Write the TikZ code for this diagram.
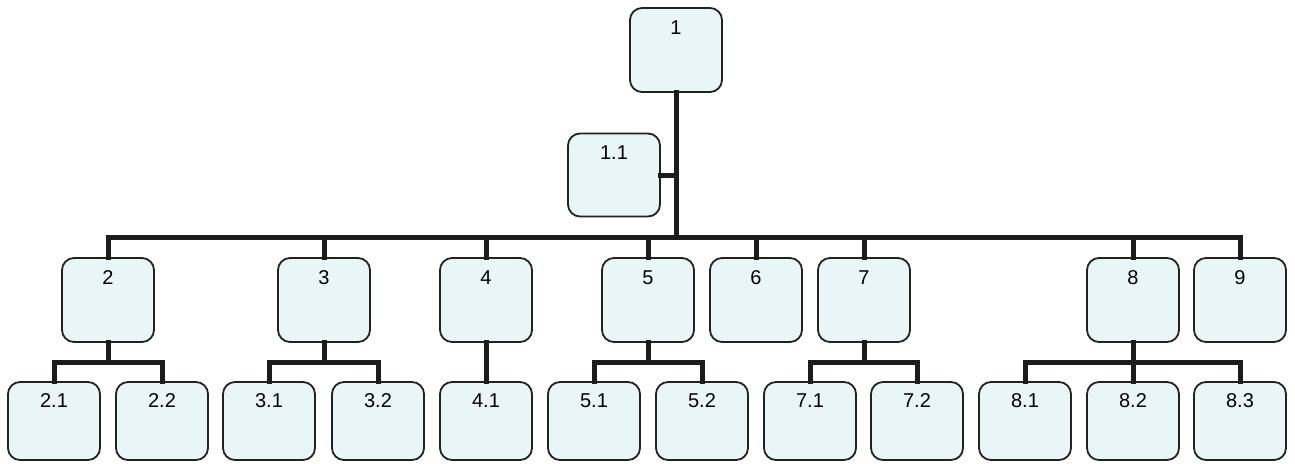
\documentclass[tikz,border=0pt]{standalone}
\usepackage{fontspec}
\setmainfont{Liberation Sans}
\definecolor{boxfill}{HTML}{E8F6F8}
\definecolor{boxline}{HTML}{222222}
\definecolor{connline}{HTML}{1C1C1C}
\begin{document}
\begin{tikzpicture}[x=1pt,y=-1pt,
  box/.style={draw=boxline, fill=boxfill, line width=1.8pt, rounded corners=12pt,
    minimum width=92pt, inner sep=0pt, text height=26pt, text depth=58pt,
    font=\fontsize{20}{24}\selectfont},
  lowbox/.style={box, text height=25pt, text depth=53pt},
  conn/.style={draw=connline, line width=5pt, line cap=rect, line join=miter}]
\useasboundingbox (0,0) rectangle (1295,463);
% coordinates for bus levels
\coordinate (busA) at (0,237);
\coordinate (busB) at (0,362);
% top
\node[box] (n1) at (676,50) {1};
\node[box, text height=26pt, text depth=57pt] (n11) at (614,175) {1.1};
% level 2
\node[box] (n2) at (108,300) {2};
\node[box] (n3) at (324,300) {3};
\node[box] (n4) at (486,300) {4};
\node[box] (n5) at (648,300) {5};
\node[box] (n6) at (756,300) {6};
\node[box] (n7) at (864,300) {7};
\node[box] (n8) at (1133,300) {8};
\node[box] (n9) at (1240,300) {9};
% level 3
\node[lowbox] (n21) at (54,421) {2.1};
\node[lowbox] (n22) at (162,421) {2.2};
\node[lowbox] (n31) at (269,421) {3.1};
\node[lowbox] (n32) at (378,421) {3.2};
\node[lowbox] (n41) at (486,421) {4.1};
\node[lowbox] (n51) at (594,421) {5.1};
\node[lowbox] (n52) at (702,421) {5.2};
\node[lowbox] (n71) at (810,421) {7.1};
\node[lowbox] (n72) at (917,421) {7.2};
\node[lowbox] (n81) at (1025,421) {8.1};
\node[lowbox] (n82) at (1133,421) {8.2};
\node[lowbox] (n83) at (1240,421) {8.3};
% connectors from 1
\coordinate (trunk) at (n1.south |- busA);
\draw[conn] (n1.south) -- (trunk);
\draw[conn] (n11.east) -- (n11.east -| n1.south);
\foreach \c in {n2,n3,n4,n5,n6,n7,n8,n9}
  \draw[conn] (trunk) -| (\c.north);
% level 2 to level 3
\foreach \p/\c in {n2/n21,n2/n22,n3/n31,n3/n32,n4/n41,n5/n51,n5/n52,n7/n71,n7/n72,n8/n81,n8/n82,n8/n83}
  \draw[conn] (\p.south) -- (\p.south |- busB) -| (\c.north);
\end{tikzpicture}
\end{document}
